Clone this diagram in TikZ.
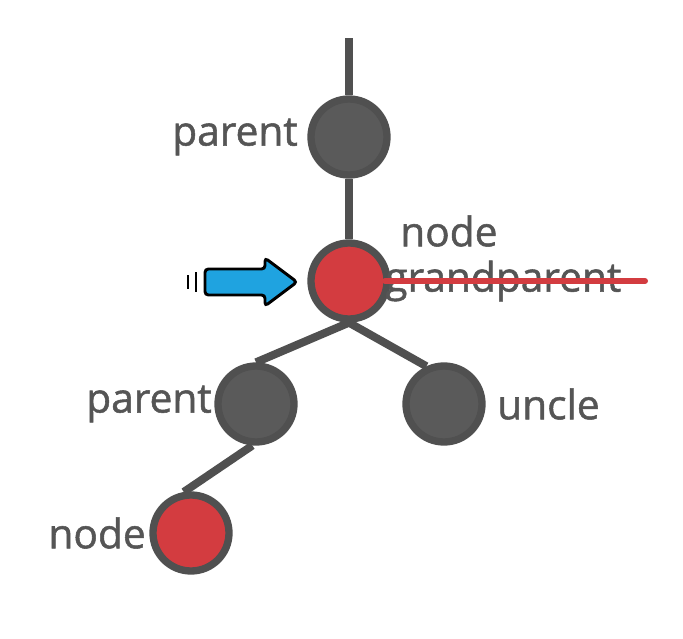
\documentclass[tikz,border=0pt]{standalone}
\usepackage{fontspec}
\setmainfont{Open Sans}
\newfontfamily\labelfont{Open Sans}[FakeBold=1.3]
\usepackage{tikz}
\usetikzlibrary{positioning}

\definecolor{nodegray}{HTML}{5A5A5A}
\definecolor{edgegray}{HTML}{505050}
\definecolor{nodered}{HTML}{D33C40}
\definecolor{arrowblue}{HTML}{1FA3E0}
\definecolor{labelgray}{HTML}{555555}

\tikzset{
  treenode/.style={circle, draw=edgegray, line width=5.5pt, fill=nodegray, minimum size=76*0.75pt, inner sep=0pt},
  rednode/.style={treenode, fill=nodered},
  treelabel/.style={text=labelgray, font=\labelfont\fontsize{30.5}{33}\selectfont, inner sep=0pt},
  treeedge/.style={draw=edgegray, line width=6pt}
}

\begin{document}
\begin{tikzpicture}[x=0.75pt, y=-0.75pt]
      \useasboundingbox (0,0) rectangle (683,639);

      % tree
      \coordinate (root) at (349,38);
      \node[treenode] (parentA) at (349,137) {};
      \node[rednode] (grand) at (349,281) {};
      \node[treenode] (parentB) at (256,404) {};
      \node[treenode] (uncle) at (444,404) {};
      \node[rednode] (cur) at (191,533) {};

      \draw[treeedge] (root) -- (parentA);
      \draw[treeedge] (parentA) -- (grand);
      \draw[treeedge] (grand.south) -- (parentB.north);
      \draw[treeedge] (grand.south) -- (uncle.115);
      \draw[treeedge] (parentB.-95) -- (cur.100);

      % labels
      \node[treelabel, anchor=east] (parentAlbl) at (298,137) {parent};
      \node[treelabel, anchor=east] (parentBlbl) at (212,404) {parent};
      \node[treelabel, anchor=west] (unclelbl) at (497,404) {uncle};
      \node[treelabel, anchor=east] (curlbl) at (146,533) {node};
      \node[treelabel, anchor=west] (nodelbl) at (400,231) {node};
      \node[treelabel, anchor=west] (grandlbl) at (385,281) {grandparent};

      % crossed out
      \coordinate (strikeend) at (645,281);
      \draw[nodered, line width=4.5pt, line cap=round] (grandlbl.west) -- (strikeend);

      % pointer
      \draw[black, line width=2.2pt, fill=arrowblue, rounded corners=2.5pt]
        (205,269) -- (265,269) -- (265,258) -- (297,282) -- (265,306) -- (265,295) -- (205,295) -- cycle;
      \foreach \x/\h in {188/7, 196/10}{
        \draw[black, line width=2.2pt] (\x,282-\h) -- (\x,282+\h);
      }

    \end{tikzpicture}
\end{document}
